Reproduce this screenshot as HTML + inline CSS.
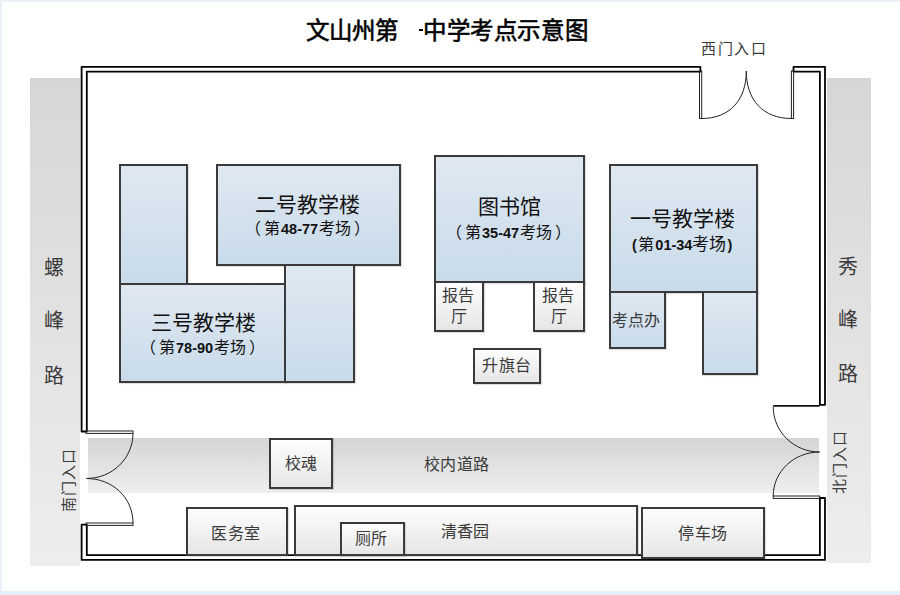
<!DOCTYPE html>
<html lang="zh-CN"><head><meta charset="utf-8">
<style>
html,body{margin:0;padding:0;}
body{width:900px;height:595px;position:relative;overflow:hidden;background:#fff;font-family:"Liberation Sans",sans-serif;color:#111;}
.abs{position:absolute;}
.edge-t{left:0;top:0;width:900px;height:2px;background:#e9f0f8;}
.edge-l{left:0;top:0;width:2px;height:595px;background:#e9f0f8;}
.edge-b{left:0;top:591px;width:900px;height:4px;background:#e6f0f8;}
.road-v{background:linear-gradient(#d6d6d6,#ededed);}
.blue{box-sizing:border-box;border:2px solid #3a3a3a;background:linear-gradient(#dfe8f1,#c9dbea);box-shadow:1px 1px 1px rgba(0,0,0,0.12);}
.gray{box-sizing:border-box;border:2px solid #3a3a3a;background:linear-gradient(#fdfdfd,#e6e6e6);box-shadow:1px 1px 1px rgba(0,0,0,0.12);}
.t{position:absolute;white-space:nowrap;line-height:1;margin-top:1px;}
.lp{position:relative;left:-3px;}
.rp{margin-left:3px;}
.sub b.d{margin:0 1px;}
.big{font-size:21px;color:#111;}
.sub{font-size:16px;color:#111;text-spacing-trim:space-all;}
.sub b{font-weight:bold;font-size:14.5px;}
.lab{font-family:"Liberation Serif",serif;font-size:16px;color:#3a3a3a;}
.title{font-family:"Liberation Serif",serif;font-weight:normal;-webkit-text-stroke:0.6px #000;font-size:23.5px;color:#000;}
</style></head><body>
<div class="abs edge-t"></div>
<div class="abs edge-l"></div>
<div class="abs edge-b"></div>

<!-- roads -->
<div class="abs road-v" style="left:30px;top:78px;width:50px;height:488px;"></div>
<div class="abs road-v" style="left:827px;top:78px;width:44px;height:485px;"></div>
<div class="abs" style="left:88px;top:438px;width:731px;height:55px;background:linear-gradient(#d4d4d4,#efefef);"></div>

<!-- walls svg -->
<svg class="abs" style="left:0;top:0" width="900" height="595" viewBox="0 0 900 595">
 <g fill="none" stroke="#000" stroke-width="1.8" stroke-linecap="round" stroke-linejoin="round">
  <path d="M700.4 66.9 H81.6 V431.5 H86.8 V71.6 H700.4 Z"/>
  <path d="M793.5 66.9 H825 V404.8 H819.9 V71.6 H793.5 Z"/>
  <path d="M81.6 524.6 V559.9 H825 V498 H819.9 V555.2 H86.8 V524.6 Z"/>
 </g>
 <g fill="none" stroke="#222" stroke-width="1">
  <!-- west gate leaves -->
  <rect x="699.5" y="71" width="2.2" height="47.5"/>
  <rect x="791.4" y="71" width="2.2" height="47.5"/>
  <path d="M701.8 118.5 C729.4 118.5 746.3 100.4 746.3 71"/>
  <path d="M791.4 118.5 C763.4 118.5 746.3 100.4 746.3 71"/>
  <!-- south gate -->
  <rect x="86" y="431" width="47" height="2.4"/>
  <rect x="86" y="523" width="47" height="2.4"/>
  <path d="M133 433.4 C133 458.3 112.2 478.5 86.5 478.5"/>
  <path d="M133 523 C133 497.4 112.2 478.5 86.5 478.5"/>
  <!-- north gate -->
  <path d="M773.2 405.9 H819.6" stroke-width="1.7" stroke="#111"/>
  <rect x="773.2" y="496" width="46.4" height="2.4"/>
  <path d="M773.2 406.6 C773.2 431.7 793.8 452 819.6 452"/>
  <path d="M773.2 496 C773.2 471.7 793.8 452 819.6 452"/>
 </g>
</svg>

<!-- buildings -->
<div class="abs blue" style="left:119px;top:164px;width:69px;height:121px;"></div>
<div class="abs blue" style="left:216px;top:164px;width:185px;height:102px;"></div>
<div class="abs blue" style="left:119px;top:283px;width:167px;height:100px;"></div>
<div class="abs blue" style="left:284px;top:264px;width:71px;height:119px;"></div>

<div class="abs blue" style="left:434px;top:155px;width:151px;height:128px;"></div>
<div class="abs gray" style="left:434px;top:281px;width:50px;height:51px;"></div>
<div class="abs gray" style="left:533px;top:281px;width:52px;height:51px;"></div>
<div class="abs gray" style="left:473px;top:348px;width:68px;height:36px;"></div>

<div class="abs blue" style="left:609px;top:164px;width:149px;height:129px;"></div>
<div class="abs blue" style="left:609px;top:291px;width:57px;height:58px;"></div>
<div class="abs blue" style="left:702px;top:291px;width:56px;height:84px;"></div>

<div class="abs gray" style="left:268.5px;top:437.5px;width:64px;height:51.5px;"></div>
<div class="abs gray" style="left:185.5px;top:507px;width:102px;height:49px;"></div>
<div class="abs gray" style="left:293.5px;top:505px;width:344px;height:51px;"></div>
<div class="abs gray" style="left:339.5px;top:522px;width:65px;height:34px;"></div>
<div class="abs gray" style="left:641px;top:507px;width:123.5px;height:52px;"></div>

<!-- text -->
<div class="t title" style="left:306px;top:19px;">文山州第</div>
<div class="abs" style="left:419px;top:29px;width:4px;height:2px;background:#000;"></div>
<div class="t title" style="left:423px;top:19px;letter-spacing:0.6px;">中学考点示意图</div>
<div class="t lab" style="left:701px;top:41px;font-size:15px;letter-spacing:1.6px;">西门入口</div>

<div class="t big" style="left:255px;top:193px;">二号教学楼</div>
<div class="t sub" style="left:248px;top:220px;"><span class="lp">（</span>第<b class="d">48-77</b>考场<span class="rp">）</span></div>
<div class="t big" style="left:151px;top:311px;">三号教学楼</div>
<div class="t sub" style="left:143px;top:339px;"><span class="lp">（</span>第<b class="d">78-90</b>考场<span class="rp">）</span></div>
<div class="t big" style="left:478px;top:195px;">图书馆</div>
<div class="t sub" style="left:449px;top:224px;"><span class="lp">（</span>第<b class="d">35-47</b>考场<span class="rp">）</span></div>
<div class="t big" style="left:630px;top:207px;">一号教学楼</div>
<div class="t sub" style="left:632px;top:235px;"><b style="margin-right:1.5px">(</b>第<b style="margin-left:1px">01-34</b><span style="font-size:17px">考场</span><b style="margin-left:1px">)</b></div>

<div class="t lab" style="left:442px;top:287px;">报告</div>
<div class="t lab" style="left:451px;top:308px;">厅</div>
<div class="t lab" style="left:542px;top:287px;">报告</div>
<div class="t lab" style="left:551px;top:308px;">厅</div>
<div class="t lab" style="left:482px;top:357px;letter-spacing:0.6px;">升旗台</div>
<div class="t lab" style="left:612px;top:312px;">考点办</div>
<div class="t lab" style="left:285px;top:455px;">校魂</div>
<div class="t lab" style="left:424px;top:456px;letter-spacing:0.3px;">校内道路</div>
<div class="t lab" style="left:211px;top:525px;letter-spacing:0.6px;">医务室</div>
<div class="t lab" style="left:355px;top:530px;">厕所</div>
<div class="t lab" style="left:441px;top:523px;">清香园</div>
<div class="t lab" style="left:678px;top:525px;letter-spacing:0.6px;">停车场</div>

<div class="t lab" style="left:44px;top:257px;font-size:20px;">螺</div>
<div class="t lab" style="left:44px;top:310px;font-size:20px;">峰</div>
<div class="t lab" style="left:44px;top:365px;font-size:20px;">路</div>
<div class="t lab" style="left:838px;top:256px;font-size:20px;">秀</div>
<div class="t lab" style="left:838px;top:309px;font-size:20px;">峰</div>
<div class="t lab" style="left:838px;top:363px;font-size:20px;">路</div>

<div class="t lab" style="left:37px;top:472px;font-size:15px;letter-spacing:1px;margin-top:0;transform:rotate(-90deg);">南门入口</div>
<div class="t lab" style="left:808px;top:454px;font-size:15px;letter-spacing:1px;margin-top:0;transform:rotate(-90deg);">北门入口</div>
</body></html>
